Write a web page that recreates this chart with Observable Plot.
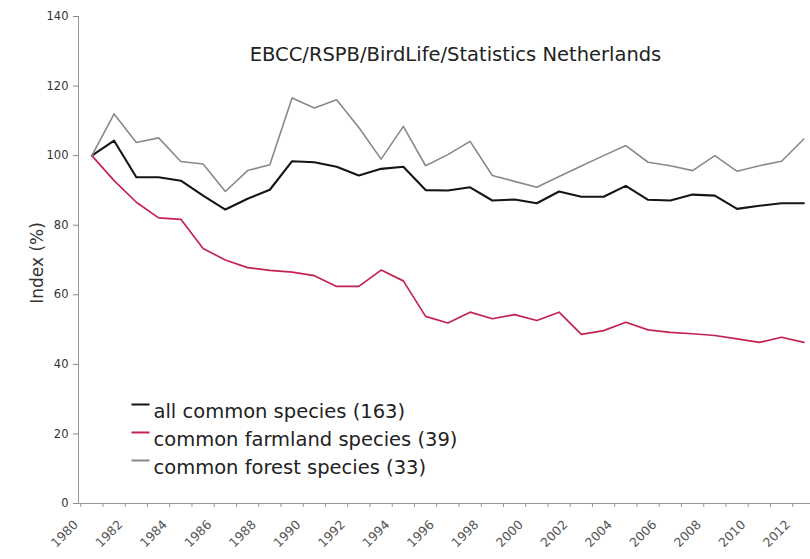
<!DOCTYPE html>
<html>
<head>
<meta charset="utf-8">
<script src="https://cdn.jsdelivr.net/npm/d3@7"></script>
<script src="https://cdn.jsdelivr.net/npm/@observablehq/plot@0.6"></script>
<style>
  html, body { margin: 0; padding: 0; background: #fff; }
  #chart svg { display: block; }
</style>
</head>
<body>
<div id="chart"></div>
<script>
const years = [1980,1981,1982,1983,1984,1985,1986,1987,1988,1989,1990,1991,1992,1993,1994,1995,1996,1997,1998,1999,2000,2001,2002,2003,2004,2005,2006,2007,2008,2009,2010,2011,2012];
const allCommon = [100,104.3,93.8,93.8,92.8,88.5,84.5,87.6,90.2,98.4,98.1,96.8,94.3,96.2,96.8,90.1,90.0,90.9,87.1,87.4,86.3,89.7,88.2,88.2,91.3,87.3,87.1,88.8,88.5,84.7,85.6,86.3,86.3];
const farmland = [100,92.8,86.6,82.1,81.7,73.3,70.0,67.8,67.0,66.5,65.5,62.4,62.4,67.1,64.0,53.8,51.9,55.0,53.1,54.3,52.6,55.0,48.6,49.7,52.1,49.9,49.2,48.8,48.3,47.3,46.3,47.8,46.3];
const forest = [100,112,103.8,105.1,98.3,97.6,89.7,95.7,97.4,116.6,113.7,116.1,108.1,99,108.4,97.1,100.3,104.1,94.3,92.6,90.9,94,97,100,102.9,98.1,97.1,95.7,100,95.5,97.1,98.4,104.8];
const yTicks = [0,20,40,60,80,100,120,140];
const xLabels = [1980,1982,1984,1986,1988,1990,1992,1994,1996,1998,2000,2002,2004,2006,2008,2010,2012];
const seriesNames = ["all common species (163)", "common farmland species (39)", "common forest species (33)"];
const seriesColors = ["#151515", "#c42350", "#858b8b"];
const seriesWidths = [2.1, 1.7, 1.6];
const titleText = "EBCC/RSPB/BirdLife/Statistics Netherlands";
const yLabel = "Index (%)";

const seriesValues = [allCommon, farmland, forest];
const FONT = "DejaVu Sans, Liberation Sans, Arial, sans-serif";
const boundaries = years.map(y => y - 0.5).concat([years[years.length - 1] + 0.5]);

const lineMarks = seriesNames.map((name, i) =>
  Plot.lineY(years.map((yr, j) => ({series: name, year: yr, value: seriesValues[i][j]})),
    { x: "year", y: "value", stroke: seriesColors[i], strokeWidth: seriesWidths[i] })
);

const hline = { draw(ctx, size) { const w = 9; ctx.moveTo(-w, 0); ctx.lineTo(w, 0); } };
const legendMarks = seriesNames.flatMap((name, i) => [
  Plot.dot([name], { frameAnchor: "top-left", dx: 62, dy: 388 + i * 28, symbol: hline, r: 1, stroke: seriesColors[i], fill: "none", strokeWidth: 2 }),
  Plot.text([name], { frameAnchor: "top-left", dx: 75, dy: 388 + i * 28, text: d => d, textAnchor: "start", fontSize: 19.5, fill: "#222", fontFamily: FONT })
]);

const chart = Plot.plot({
  width: 810,
  height: 559,
  marginLeft: 78,
  marginTop: 16,
  marginBottom: 56,
  marginRight: 0,
  style: { fontFamily: FONT, background: "#fff" },
  x: { domain: [1979.4, 2012.3] },
  y: { domain: [0, 140] },
  marks: [
    Plot.axisY({ ticks: yTicks, tickSize: 5, tickPadding: 5, fontSize: 11.5, label: null, color: "#333", stroke: "#888" }),
    Plot.text([yLabel], { frameAnchor: "left", rotate: -90, textAnchor: "middle", dx: -41, dy: 3, fontSize: 17, fill: "#333", fontFamily: FONT }),
    Plot.axisX({ ticks: boundaries, tickSize: 4, tickFormat: () => "", label: null, stroke: "#999" }),
    Plot.frame({ anchor: "left", stroke: "#999" }),
    Plot.ruleY([0], { stroke: "#999" }),
    Plot.text(xLabels, { x: d => d, frameAnchor: "bottom", text: d => String(d), rotate: -45, textAnchor: "end", dx: -13, dy: 22, fontSize: 12.5, fill: "#555", fontFamily: FONT }),
    ...lineMarks,
    Plot.text([titleText], { frameAnchor: "top", dx: 11, dy: 31, fontSize: 19.5, fill: "#222", fontFamily: FONT }),
    ...legendMarks
  ]
});
document.getElementById("chart").append(chart);
</script>
</body>
</html>
